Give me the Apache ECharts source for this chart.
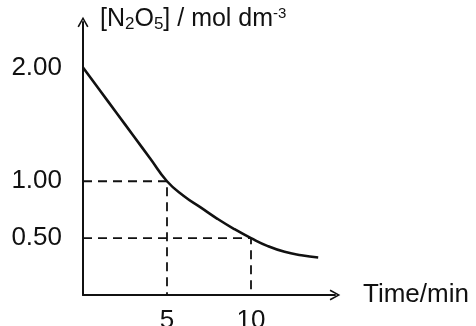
<!DOCTYPE html>
<html>
<head>
<meta charset="utf-8">
<script src="https://cdn.jsdelivr.net/npm/echarts@6/dist/echarts.min.js"></script>
<style>
  html, body { margin: 0; padding: 0; background: #fff; }
  #chart { width: 476px; height: 326px; }
</style>
</head>
<body>
<div id="chart"></div>
<script>
// concentration of N2O5 over time
const times = [0, 1, 2, 3, 4, 5, 6, 7, 8, 9, 10, 11, 12, 13, 14];
const conc = [2.00, 1.80, 1.60, 1.40, 1.20, 1.00, 0.87, 0.77, 0.67, 0.58, 0.50, 0.43, 0.38, 0.35, 0.33];

// half-life guide lines
const guideTimes = [5, 10];
const guideConc = [1.00, 0.50];

const xTicks = [5, 10];
const yTicks = [0.50, 1.00, 2.00];

const font = 'Liberation Sans, Arial, sans-serif';
const chevron = 'path://M5 0 L10 9 L8.7 9.7 L5 2.8 L1.3 9.7 L0 9 Z';

const chart = echarts.init(document.getElementById('chart'));

const guideSeries = [];
guideTimes.forEach((t, i) => {
  guideSeries.push({
    type: 'line',
    data: [[0, guideConc[i]], [t, guideConc[i]], [t, 0]],
    symbol: 'none',
    silent: true,
    lineStyle: { color: '#111', width: 1.8, type: [9, 6] },
  });
});

const option = {
  animation: false,
  grid: {
    left: 83, right: 141, top: 22, bottom: 31,
    containLabel: false,
    outerBoundsMode: 'none',
  },
  xAxis: {
    type: 'value',
    min: 0,
    max: 15,
    name: 'Time/min',
    nameLocation: 'end',
    nameGap: 28,
    nameTextStyle: { color: '#111', fontSize: 26, fontFamily: font },
    splitLine: { show: false },
    axisTick: { show: false },
    axisLine: {
      lineStyle: { color: '#111', width: 2 },
      symbol: ['none', chevron],
      symbolSize: [11, 11],
    },
    axisLabel: {
      customValues: xTicks,
      color: '#111',
      fontSize: 26,
      fontFamily: font,
      margin: 13,
    },
  },
  yAxis: {
    type: 'value',
    min: 0,
    max: 2.4,
    name: '[N{sub|2}O{sub|5}] / mol dm{sup|-3}',
    nameLocation: 'end',
    nameGap: -11,
    nameTextStyle: {
      color: '#111',
      fontSize: 25,
      fontFamily: font,
      align: 'left',
      padding: [0, 0, 0, 17],
      rich: {
        sub: { fontSize: 17, fontFamily: font, color: '#111', padding: [11, 0, 0, 0] },
        sup: { fontSize: 15, fontFamily: font, color: '#111', padding: [0, 0, 10, 0] },
      },
    },
    splitLine: { show: false },
    axisTick: { show: false },
    axisLine: {
      lineStyle: { color: '#111', width: 2 },
      symbol: ['none', chevron],
      symbolSize: [11, 11],
    },
    axisLabel: {
      customValues: yTicks,
      formatter: (v) => v.toFixed(2),
      color: '#111',
      fontSize: 26,
      fontFamily: font,
      margin: 21,
    },
  },
  series: [
    {
      type: 'line',
      data: times.map((t, i) => [t, conc[i]]),
      smooth: true,
      symbol: 'none',
      lineStyle: { color: '#111', width: 2.6 },
    },
    ...guideSeries,
  ],
};

chart.setOption(option);
</script>
</body>
</html>
